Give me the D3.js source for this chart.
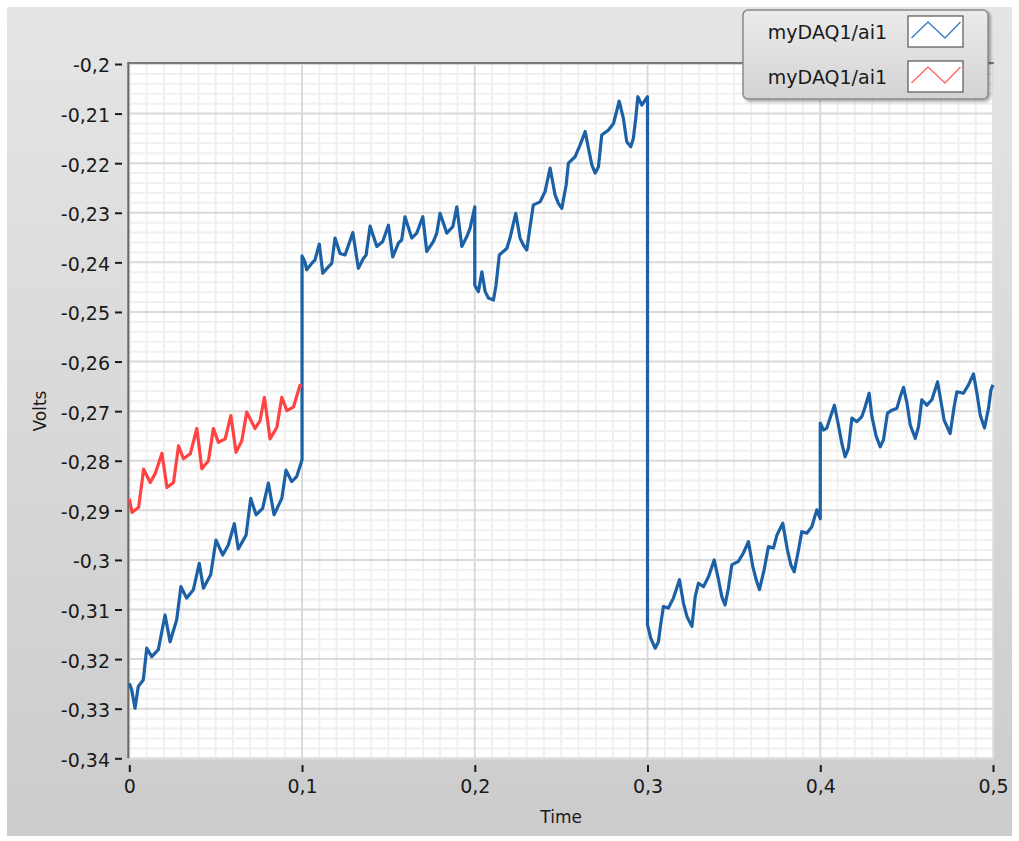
<!DOCTYPE html>
<html>
<head>
<meta charset="utf-8">
<script src="https://cdn.jsdelivr.net/npm/d3@7/dist/d3.min.js"></script>
<style>
  html, body { margin: 0; padding: 0; background: #ffffff; }
  svg { display: block; }
  text { font-family: "DejaVu Sans", Verdana, sans-serif; fill: #1a1a1a; }
</style>
</head>
<body>
<svg id="chart" width="1019" height="841"></svg>
<script>
// ---------- data ----------
const yTicks = [-0.2, -0.21, -0.22, -0.23, -0.24, -0.25, -0.26, -0.27, -0.28, -0.29, -0.3, -0.31, -0.32, -0.33, -0.34];
const xTicks = [0, 0.1, 0.2, 0.3, 0.4, 0.5];
const xLabel = "Time";
const yLabel = "Volts";
const seriesNames = ["myDAQ1/ai1", "myDAQ1/ai1"];

// red trace, [time, volts]
const redSeg = [
  [0,-0.2877],[0.0016,-0.2904],[0.0054,-0.2894],[0.0083,-0.2817],[0.0121,-0.2844],[0.0150,-0.2826],
  [0.0189,-0.2785],[0.0218,-0.2854],[0.0256,-0.2844],[0.0285,-0.2770],[0.0314,-0.2796],[0.0353,-0.2786],
  [0.0391,-0.2735],[0.0420,-0.2816],[0.0458,-0.2800],[0.0487,-0.2735],[0.0516,-0.2763],[0.0555,-0.2756],
  [0.0588,-0.2709],[0.0618,-0.2783],[0.0651,-0.2760],[0.0680,-0.2702],[0.0728,-0.2735],[0.0757,-0.2719],
  [0.0782,-0.2672],[0.0815,-0.2756],[0.0854,-0.2733],[0.0883,-0.2672],[0.0912,-0.2699],[0.0950,-0.2692],
  [0.0988,-0.2648],[0.1,-0.2650]
];

// blue trace, five chunks of 0.1 s, [time, volts]
const blueSeg0 = [
  [0,-0.3249],[0.0014,-0.3262],[0.0033,-0.3299],[0.0052,-0.3255],[0.0081,-0.3242],[0.0101,-0.3178],
  [0.0130,-0.3195],[0.0168,-0.3181],[0.0207,-0.3111],[0.0236,-0.3165],[0.0274,-0.3121],[0.0299,-0.3054],
  [0.0332,-0.3077],[0.0371,-0.3060],[0.0405,-0.3007],[0.0429,-0.3057],[0.0471,-0.3030],[0.0502,-0.2960],
  [0.0541,-0.2990],[0.0573,-0.2970],[0.0608,-0.2927],[0.0631,-0.2978],[0.0676,-0.2950],[0.0703,-0.2876],
  [0.0734,-0.2909],[0.0772,-0.2896],[0.0805,-0.2845],[0.0838,-0.2909],[0.0883,-0.2876],[0.0907,-0.2819],
  [0.0940,-0.2842],[0.0969,-0.2832],[0.1,-0.2798]
];
const blueSeg1 = [
  [0.1,-0.2387],[0.1017,-0.2399],[0.1027,-0.2415],[0.1056,-0.2402],[0.1075,-0.2395],[0.1100,-0.2363],
  [0.1120,-0.2422],[0.1152,-0.2409],[0.1172,-0.2402],[0.1191,-0.2351],[0.1220,-0.2382],[0.1249,-0.2385],
  [0.1294,-0.2340],[0.1326,-0.2412],[0.1355,-0.2392],[0.1371,-0.2385],[0.1394,-0.2327],[0.1433,-0.2368],
  [0.1467,-0.2358],[0.1500,-0.2325],[0.1525,-0.2389],[0.1558,-0.2361],[0.1577,-0.2355],[0.1596,-0.2308],
  [0.1635,-0.2351],[0.1664,-0.2341],[0.1699,-0.2308],[0.1722,-0.2378],[0.1760,-0.2358],[0.1780,-0.2341],
  [0.1799,-0.2301],[0.1838,-0.2341],[0.1873,-0.2328],[0.1896,-0.2288],[0.1925,-0.2368],[0.1954,-0.2348],
  [0.1973,-0.2331],[0.2,-0.2288]
];
const blueSeg2 = [
  [0.2,-0.2446],[0.2021,-0.2459],[0.2041,-0.2419],[0.2060,-0.2459],[0.2079,-0.2472],[0.2108,-0.2476],
  [0.2123,-0.2446],[0.2142,-0.2385],[0.2185,-0.2372],[0.2204,-0.2351],[0.2237,-0.2301],[0.2262,-0.2351],
  [0.2281,-0.2365],[0.2301,-0.2375],[0.2320,-0.2328],[0.2339,-0.2284],[0.2378,-0.2278],[0.2407,-0.2257],
  [0.2436,-0.2210],[0.2465,-0.2264],[0.2484,-0.2281],[0.2504,-0.2291],[0.2529,-0.2244],[0.2542,-0.2200],
  [0.2581,-0.2187],[0.2610,-0.2163],[0.2639,-0.2136],[0.2658,-0.2170],[0.2678,-0.2204],[0.2697,-0.2220],
  [0.2716,-0.2207],[0.2735,-0.2143],[0.2774,-0.2133],[0.2803,-0.2120],[0.2836,-0.2075],[0.2860,-0.2109],
  [0.2880,-0.2157],[0.2903,-0.2167],[0.2918,-0.2150],[0.2932,-0.2109],[0.2944,-0.2066],[0.2967,-0.2083],
  [0.2986,-0.2073],[0.3,-0.2066]
];
const blueSeg3 = [
  [0.3,-0.3131],[0.3019,-0.3158],[0.3044,-0.3178],[0.3063,-0.3165],[0.3077,-0.3128],[0.3092,-0.3094],
  [0.3121,-0.3097],[0.3150,-0.3077],[0.3185,-0.3040],[0.3208,-0.3087],[0.3228,-0.3114],[0.3257,-0.3134],
  [0.3276,-0.3074],[0.3295,-0.3047],[0.3324,-0.3054],[0.3353,-0.3034],[0.3386,-0.3000],[0.3411,-0.3040],
  [0.3430,-0.3074],[0.3449,-0.3091],[0.3468,-0.3057],[0.3488,-0.3010],[0.3526,-0.3003],[0.3555,-0.2986],
  [0.3584,-0.2963],[0.3610,-0.3014],[0.3629,-0.3040],[0.3648,-0.3060],[0.3675,-0.3020],[0.3700,-0.2973],
  [0.3729,-0.2976],[0.3749,-0.2950],[0.3783,-0.2926],[0.3810,-0.2980],[0.3830,-0.3010],[0.3849,-0.3024],
  [0.3874,-0.2980],[0.3893,-0.2943],[0.3922,-0.2946],[0.3951,-0.2933],[0.3980,-0.2899],[0.4,-0.2917]
];
const blueSeg4 = [
  [0.4,-0.2724],[0.4019,-0.2738],[0.4038,-0.2734],[0.4057,-0.2714],[0.4082,-0.2688],[0.4105,-0.2728],
  [0.4125,-0.2765],[0.4144,-0.2792],[0.4163,-0.2775],[0.4183,-0.2714],[0.4212,-0.2721],[0.4241,-0.2711],
  [0.4260,-0.2691],[0.4283,-0.2664],[0.4299,-0.2711],[0.4324,-0.2751],[0.4347,-0.2772],[0.4366,-0.2758],
  [0.4389,-0.2704],[0.4415,-0.2698],[0.4444,-0.2694],[0.4463,-0.2671],[0.4482,-0.2652],[0.4502,-0.2684],
  [0.4521,-0.2728],[0.4550,-0.2755],[0.4569,-0.2731],[0.4588,-0.2677],[0.4617,-0.2688],[0.4646,-0.2677],
  [0.4679,-0.2641],[0.4694,-0.2671],[0.4717,-0.2718],[0.4752,-0.2745],[0.4775,-0.2691],[0.4791,-0.2661],
  [0.4829,-0.2664],[0.4858,-0.2647],[0.4887,-0.2625],[0.4907,-0.2664],[0.4926,-0.2708],[0.4951,-0.2734],
  [0.4974,-0.2694],[0.4988,-0.2657],[0.5,-0.2647]
];

// ---------- drawing ----------
const svg = d3.select("#chart");
const fmt = v => String(+v.toFixed(4)).replace(".", ",");

const plot = { left: 129.3, right: 993, top: 64, bottom: 758.3 };
const x = d3.scaleLinear().domain([0, 0.5]).range([plot.left, plot.right]);
const y = d3.scaleLinear().domain([-0.34, -0.2]).range([plot.bottom, plot.top]);

const defs = svg.append("defs");
const bg = defs.append("linearGradient").attr("id", "bg").attr("x1", 0).attr("y1", 0).attr("x2", 0).attr("y2", 1);
bg.append("stop").attr("offset", "0%").attr("stop-color", "#e5e5e5");
bg.append("stop").attr("offset", "100%").attr("stop-color", "#cccccc");
const lg = defs.append("linearGradient").attr("id", "lg").attr("x1", 0).attr("y1", 0).attr("x2", 0).attr("y2", 1);
lg.append("stop").attr("offset", "0%").attr("stop-color", "#ebebeb");
lg.append("stop").attr("offset", "100%").attr("stop-color", "#d3d3d3");
const sh = defs.append("filter").attr("id", "shadow").attr("x", "-10%").attr("y", "-10%").attr("width", "130%").attr("height", "140%");
sh.append("feDropShadow").attr("dx", 2).attr("dy", 2).attr("stdDeviation", 1.5).attr("flood-color", "#000").attr("flood-opacity", 0.35);

// panel
svg.append("rect").attr("x", 7).attr("y", 7).attr("width", 1005).attr("height", 829).attr("fill", "url(#bg)");

// plot background
svg.append("rect").attr("x", plot.left).attr("y", plot.top)
  .attr("width", plot.right - plot.left).attr("height", plot.bottom - plot.top)
  .attr("fill", "#ffffff");

// grid
const g = svg.append("g");
const minorX = d3.range(0, 51).map(i => i * 0.01).filter(t => Math.round(t * 100) % 10 !== 0);
const minorY = d3.range(0, 71).map(i => -0.2 - i * 0.002).filter((v, i) => i % 5 !== 0);
g.selectAll(".mx").data(minorX).join("line")
  .attr("x1", d => x(d)).attr("x2", d => x(d)).attr("y1", plot.top).attr("y2", plot.bottom)
  .attr("stroke", "#f0f0f0").attr("stroke-width", 2);
g.selectAll(".my").data(minorY).join("line")
  .attr("y1", d => y(d)).attr("y2", d => y(d)).attr("x1", plot.left).attr("x2", plot.right)
  .attr("stroke", "#f0f0f0").attr("stroke-width", 2);
g.selectAll(".Mx").data(xTicks).join("line")
  .attr("x1", d => x(d)).attr("x2", d => x(d)).attr("y1", plot.top).attr("y2", plot.bottom)
  .attr("stroke", "#dadada").attr("stroke-width", 2);
g.selectAll(".My").data(yTicks).join("line")
  .attr("y1", d => y(d)).attr("y2", d => y(d)).attr("x1", plot.left).attr("x2", plot.right)
  .attr("stroke", "#dadada").attr("stroke-width", 2);

// plot frame
svg.append("line").attr("x1", plot.right).attr("x2", plot.right).attr("y1", plot.top).attr("y2", plot.bottom)
  .attr("stroke", "#e2e2e2").attr("stroke-width", 2);
svg.append("line").attr("x1", plot.left).attr("x2", plot.right).attr("y1", plot.bottom).attr("y2", plot.bottom)
  .attr("stroke", "#e2e2e2").attr("stroke-width", 2);
svg.append("line").attr("x1", plot.left - 1).attr("x2", plot.right + 1).attr("y1", plot.top - 1).attr("y2", plot.top - 1)
  .attr("stroke", "#7a7a7a").attr("stroke-width", 2);
svg.append("line").attr("x1", plot.left - 1).attr("x2", plot.left - 1).attr("y1", plot.top - 2).attr("y2", plot.bottom)
  .attr("stroke", "#6a6a6a").attr("stroke-width", 2);

// traces
const line = d3.line().x(d => x(d[0])).y(d => y(d[1]));
const blue = [].concat(blueSeg0, blueSeg1, blueSeg2, blueSeg3, blueSeg4);
svg.append("path").datum(blue).attr("d", line)
  .attr("fill", "none").attr("stroke", "#1c60a6").attr("stroke-width", 3.2)
  .attr("stroke-linejoin", "round");
svg.append("path").datum(redSeg).attr("d", line)
  .attr("fill", "none").attr("stroke", "#ff4343").attr("stroke-width", 3.2)
  .attr("stroke-linejoin", "round");

// axes
const yAxis = d3.axisLeft(y).tickValues(yTicks).tickFormat(fmt).tickSize(7).tickPadding(5);
const ya = svg.append("g").attr("transform", "translate(122,0)").call(yAxis);
ya.select(".domain").remove();
ya.selectAll(".tick line").attr("stroke", "#1a1a1a").attr("stroke-width", 2);
ya.selectAll(".tick text").attr("font-size", 19).attr("font-family", "DejaVu Sans").attr("fill", "#1a1a1a").attr("dy", "0.42em");

const xAxis = d3.axisBottom(x).tickValues(xTicks).tickFormat(fmt).tickSize(7).tickPadding(8);
const xa = svg.append("g").attr("transform", "translate(0,765)").call(xAxis);
xa.select(".domain").remove();
xa.selectAll(".tick line").attr("stroke", "#1a1a1a").attr("stroke-width", 2);
xa.selectAll(".tick text").attr("font-size", 19).attr("font-family", "DejaVu Sans").attr("fill", "#1a1a1a");

// axis titles
svg.append("text").attr("x", (plot.left + plot.right) / 2 + 0).attr("y", 823)
  .attr("text-anchor", "middle").attr("font-size", 17).text(xLabel);
svg.append("text").attr("transform", "translate(46,411) rotate(-90)")
  .attr("text-anchor", "middle").attr("font-size", 17).text(yLabel);

// legend
const leg = svg.append("g");
leg.append("rect").attr("x", 743).attr("y", 10).attr("width", 245).attr("height", 89).attr("rx", 5)
  .attr("fill", "url(#lg)").attr("stroke", "#8a8a8a").attr("stroke-width", 1.5).attr("filter", "url(#shadow)");
const legColors = ["#3a80c4", "#ff6a6a"];
seriesNames.forEach((name, i) => {
  const cy = 32 + i * 45;
  leg.append("text").attr("x", 887).attr("y", cy + 7).attr("text-anchor", "end")
    .attr("font-size", 19).text(name);
  leg.append("rect").attr("x", 908).attr("y", cy - 16).attr("width", 55).attr("height", 31)
    .attr("fill", "#ffffff").attr("stroke", "#555").attr("stroke-width", 1.2);
  leg.append("polyline")
    .attr("points", [[911.5, cy + 6], [928, cy - 10], [945, cy + 6], [960.5, cy - 10]].map(p => p.join(",")).join(" "))
    .attr("fill", "none").attr("stroke", legColors[i]).attr("stroke-width", 1.4);
});
</script>
</body>
</html>
